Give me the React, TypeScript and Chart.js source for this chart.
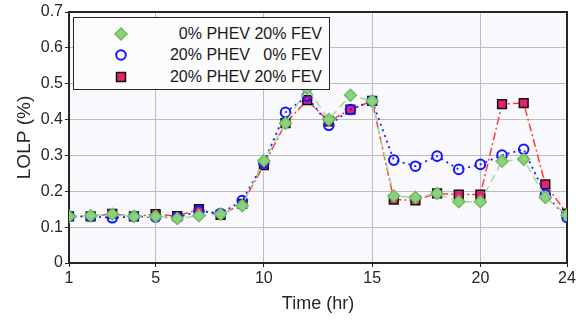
import React, { useEffect, useRef } from "react";
import { Chart, registerables } from "chart.js";

Chart.register(...registerables);

const hours = Array.from({ length: 24 }, (_, i) => i + 1);
const xTickValues = [1, 5, 10, 15, 20, 24];
const yTickValues = [0, 0.1, 0.2, 0.3, 0.4, 0.5, 0.6, 0.7];

const seriesNames = ["0% PHEV 20% FEV", "20% PHEV   0% FEV", "20% PHEV 20% FEV"];

const green0P20F = [0.13, 0.132, 0.136, 0.13, 0.13, 0.124, 0.132, 0.136, 0.16, 0.285, 0.39, 0.487,
  0.4, 0.468, 0.452, 0.187, 0.183, 0.194, 0.171, 0.171, 0.284, 0.289, 0.183, 0.134];
const blue20P0F = [0.13, 0.13, 0.126, 0.13, 0.128, 0.127, 0.145, 0.138, 0.174, 0.28, 0.42, 0.465,
  0.384, 0.428, 0.452, 0.287, 0.27, 0.298, 0.261, 0.275, 0.301, 0.317, 0.19, 0.127];
const red20P20F = [0.13, 0.13, 0.137, 0.13, 0.136, 0.131, 0.15, 0.134, 0.165, 0.273, 0.39, 0.454,
  0.395, 0.428, 0.452, 0.177, 0.175, 0.194, 0.191, 0.191, 0.443, 0.446, 0.219, 0.138];

const frameAndBg = {
  id: "frameAndBg",
  beforeDraw(chart: any) {
    const { ctx, chartArea: a } = chart;
    ctx.save();
    ctx.fillStyle = "#f9f8fc";
    ctx.fillRect(a.left, a.top, a.right - a.left, a.bottom - a.top);
    ctx.restore();
  },
  beforeDatasetsDraw(chart: any) {
    const { ctx, chartArea: a } = chart;
    ctx.save();
    ctx.strokeStyle = "#262626";
    ctx.lineWidth = 2;
    ctx.strokeRect(a.left, a.top, a.right - a.left, a.bottom - a.top);
    ctx.restore();
  },
};

export default function App() {
  const ref = useRef<HTMLCanvasElement>(null);
  useEffect(() => {
    if (!ref.current) return;
    const tickFont = { family: "'Liberation Sans', Arial, sans-serif", size: 16 };
    const chart = new Chart(ref.current, {
      type: "line",
      data: {
        labels: hours,
        datasets: [
          {
            label: seriesNames[0],
            data: hours.map((h, i) => ({ x: h, y: green0P20F[i] })),
            borderColor: "#9fdc9a",
            borderWidth: 1.5,
            borderDash: [8, 5],
            pointStyle: "rectRot",
            pointRadius: 6,
            pointBackgroundColor: "#8fd07f",
            pointBorderColor: "#6cbf60",
            pointBorderWidth: 1.5,
            fill: false,
          },
          {
            label: seriesNames[1],
            data: hours.map((h, i) => ({ x: h, y: blue20P0F[i] })),
            borderColor: "#1f1fff",
            borderWidth: 1.8,
            borderDash: [2, 4],
            pointStyle: "circle",
            pointRadius: 4.8,
            pointBackgroundColor: "rgba(0,0,0,0)",
            pointBorderColor: "#1414ff",
            pointBorderWidth: 2,
            fill: false,
          },
          {
            label: seriesNames[2],
            data: hours.map((h, i) => ({ x: h, y: red20P20F[i] })),
            borderColor: "#ff3b3b",
            borderWidth: 1.5,
            borderDash: [8, 3, 2, 3],
            pointStyle: "rect",
            pointRadius: 6.2,
            pointBackgroundColor: "#e8206e",
            pointBorderColor: "#111111",
            pointBorderWidth: 1.5,
            fill: false,
          },
        ],
      },
      options: {
        animation: false,
        responsive: false,
        maintainAspectRatio: false,
        layout: { padding: { top: 12, right: 20, left: 0, bottom: 0 } },
        plugins: { legend: { display: false }, tooltip: { enabled: false } },
        scales: {
          x: {
            type: "linear",
            min: 1,
            max: 24,
            afterBuildTicks: (s: any) => {
              s.ticks = xTickValues.map((v) => ({ value: v }));
            },
            afterFit: (s: any) => {
              s.height = 58;
            },
            ticks: { font: tickFont, color: "#262626", padding: 2, autoSkip: false, maxRotation: 0 },
            grid: {
              color: "#bdbdbd",
              borderDash: [1, 3],
              lineWidth: 1,
              tickLength: 4,
              tickColor: "#262626",
              tickBorderDash: [],
            } as any,
            border: { display: false },
            title: {
              display: true,
              text: "Time (hr)",
              font: { family: "'Liberation Sans', Arial, sans-serif", size: 18 },
              color: "#262626",
              padding: { top: 2, bottom: 6 },
            },
          },
          y: {
            type: "linear",
            min: 0,
            max: 0.7,
            afterBuildTicks: (s: any) => {
              s.ticks = yTickValues.map((v) => ({ value: v }));
            },
            afterFit: (s: any) => {
              s.width = 69;
            },
            ticks: {
              font: tickFont,
              color: "#262626",
              padding: 2,
              callback: (v: any) => (Number(v) === 0 ? "0" : Number(v).toFixed(1)),
            },
            grid: {
              color: "#bdbdbd",
              borderDash: [1, 3],
              lineWidth: 1,
              tickLength: 4,
              tickColor: "#262626",
              tickBorderDash: [],
            } as any,
            border: { display: false },
            title: {
              display: true,
              text: "LOLP (%)",
              font: { family: "'Liberation Sans', Arial, sans-serif", size: 19 },
              color: "#262626",
              padding: { top: 13, bottom: 0 },
            },
          },
        },
      } as any,
      plugins: [frameAndBg],
    });
    return () => chart.destroy();
  }, []);

  const legendFont = "'Liberation Sans', Arial, sans-serif";
  const row = (marker: React.ReactNode, text: string, top: number) => (
    <div style={{ position: "absolute", left: 0, top, width: 256, height: 22 }}>
      <div style={{ position: "absolute", left: 38, top: 2 }}>{marker}</div>
      <div
        style={{
          position: "absolute",
          right: 8,
          top: 0,
          whiteSpace: "pre",
          fontFamily: legendFont,
          fontSize: 16,
          lineHeight: "22px",
          color: "#1a1a1a",
        }}
      >
        {text}
      </div>
    </div>
  );

  return (
    <div style={{ position: "absolute", left: 0, top: 0, width: 587, height: 321, background: "#fff" }}>
      <canvas ref={ref} width={587} height={321} style={{ width: 587, height: 321, display: "block" }} />
      <div
        style={{
          position: "absolute",
          left: 73,
          top: 17,
          width: 255,
          height: 71,
          border: "1px solid #262626",
          background: "#fcfcfd",
        }}
      >
        {row(
          <svg width={18} height={18}>
            <polygon points="9,3 15,9 9,15 3,9" fill="#8fd07f" stroke="#6cbf60" strokeWidth={1.5} />
          </svg>,
          seriesNames[0],
          5
        )}
        {row(
          <svg width={18} height={18}>
            <circle cx={9} cy={9} r={4.8} fill="none" stroke="#1414ff" strokeWidth={2} />
          </svg>,
          seriesNames[1],
          26
        )}
        {row(
          <svg width={18} height={18}>
            <rect x={4.5} y={4.5} width={9} height={9} fill="#e8206e" stroke="#111" strokeWidth={1.5} />
          </svg>,
          seriesNames[2],
          48
        )}
      </div>
    </div>
  );
}
